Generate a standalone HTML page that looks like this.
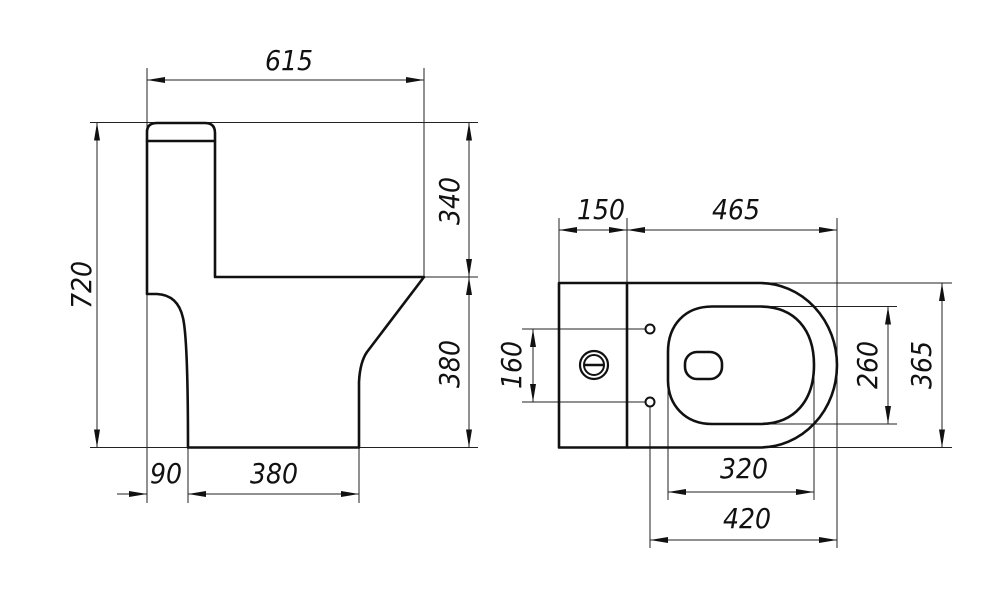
<!DOCTYPE html>
<html><head><meta charset="utf-8"><style>html,body{margin:0;padding:0;background:#fff}svg{display:block}text{font-family:"Liberation Sans Narrow","DejaVu Sans Condensed","Liberation Sans",sans-serif;font-style:italic;font-size:28px;fill:#111}</style></head><body>
<svg width="1000" height="591" viewBox="0 0 1000 591" xmlns="http://www.w3.org/2000/svg">
<defs>
<marker id="a" markerWidth="20" markerHeight="10" refX="18" refY="5" orient="auto-start-reverse" markerUnits="userSpaceOnUse"><path d="M0,2 L18,5 L0,8 Z" fill="#111"/></marker>
</defs>
<g stroke="#222" stroke-width="1" fill="none">
<line x1="147" y1="68" x2="147" y2="503"/>
<line x1="424" y1="68" x2="424" y2="277"/>
<line x1="90" y1="122.5" x2="478" y2="122.5"/>
<line x1="90" y1="447.5" x2="478" y2="447.5"/>
<line x1="424" y1="277" x2="478" y2="277"/>
<line x1="188" y1="447" x2="188" y2="503"/>
<line x1="359" y1="447" x2="359" y2="503"/>
<line x1="147" y1="80" x2="424" y2="80" marker-start="url(#a)" marker-end="url(#a)"/>
<line x1="97" y1="122.5" x2="97" y2="447.5" marker-start="url(#a)" marker-end="url(#a)"/>
<line x1="469" y1="122.5" x2="469" y2="277" marker-start="url(#a)" marker-end="url(#a)"/>
<line x1="469" y1="277" x2="469" y2="447.5" marker-start="url(#a)" marker-end="url(#a)"/>
<line x1="117" y1="494" x2="147" y2="494" marker-end="url(#a)"/>
<line x1="188" y1="494" x2="359" y2="494" marker-start="url(#a)" marker-end="url(#a)"/>
<line x1="559" y1="218" x2="559" y2="283"/>
<line x1="627" y1="218" x2="627" y2="283"/>
<line x1="837" y1="218" x2="837" y2="548"/>
<line x1="760" y1="283" x2="952" y2="283"/>
<line x1="760" y1="447.5" x2="952" y2="447.5"/>
<line x1="760" y1="306.5" x2="897" y2="306.5"/>
<line x1="760" y1="424" x2="897" y2="424"/>
<line x1="522" y1="329" x2="646" y2="329"/>
<line x1="522" y1="402" x2="646" y2="402"/>
<line x1="650" y1="406" x2="650" y2="548"/>
<line x1="668" y1="365" x2="668" y2="500"/>
<line x1="814" y1="365" x2="814" y2="500"/>
<line x1="559" y1="230" x2="627" y2="230" marker-start="url(#a)" marker-end="url(#a)"/>
<line x1="627" y1="230" x2="837" y2="230" marker-start="url(#a)" marker-end="url(#a)"/>
<line x1="533" y1="329" x2="533" y2="402" marker-start="url(#a)" marker-end="url(#a)"/>
<line x1="888" y1="306.5" x2="888" y2="424" marker-start="url(#a)" marker-end="url(#a)"/>
<line x1="942" y1="283" x2="942" y2="447.5" marker-start="url(#a)" marker-end="url(#a)"/>
<line x1="668" y1="492" x2="814" y2="492" marker-start="url(#a)" marker-end="url(#a)"/>
<line x1="650" y1="540" x2="837" y2="540" marker-start="url(#a)" marker-end="url(#a)"/>
</g>
<g stroke="#111" stroke-width="2.6" fill="none" stroke-linejoin="round">
<path d="M147,141 L147,132 Q147,123 157,123 L205,123 Q215,123 215,133 L215,141 Z"/>
<path d="M147,141 L147,294 L157,294 Q178,295 183,318 Q188,340 188,447.5 L359,447.5 L359,382 Q360,362 367,352 L424,277 L215,277 L215,141"/>
<rect x="559" y="283" width="68" height="164.5"/>
<path d="M627,283 L760,283 A77,82.25 0 0 1 760,447.5 L627,447.5"/>
<path d="M712,306.5 L760,306.5 C795,306.5 814,330 814,365 C814,400 795,424 760,424 L712,424 C685,424 668,405 668,380 L668,352 C668,325 685,306.5 712,306.5 Z"/>
<rect x="685" y="352" width="37" height="27" rx="12" ry="12"/>
</g>
<g stroke="#111" fill="none">
<circle cx="650" cy="329" r="4.5" stroke-width="2"/>
<circle cx="650" cy="402" r="4.5" stroke-width="2"/>
<circle cx="594" cy="365" r="14" stroke-width="2.2"/>
<circle cx="594" cy="365" r="10" stroke-width="2"/>
<line x1="584" y1="365" x2="604" y2="365" stroke-width="2.4"/>
</g>
<text x="265" y="70">615</text>
<text x="150" y="483">90</text>
<text x="250" y="483">380</text>
<text transform="translate(91,285) rotate(-90)" text-anchor="middle">720</text>
<text transform="translate(459,201) rotate(-90)" text-anchor="middle">340</text>
<text transform="translate(459,364) rotate(-90)" text-anchor="middle">380</text>
<text x="577" y="219">150</text>
<text x="712" y="219">465</text>
<text transform="translate(521,365) rotate(-90)" text-anchor="middle">160</text>
<text transform="translate(877,365) rotate(-90)" text-anchor="middle">260</text>
<text transform="translate(931,365) rotate(-90)" text-anchor="middle">365</text>
<text x="720" y="478">320</text>
<text x="723" y="528">420</text>
</svg>
</body></html>
